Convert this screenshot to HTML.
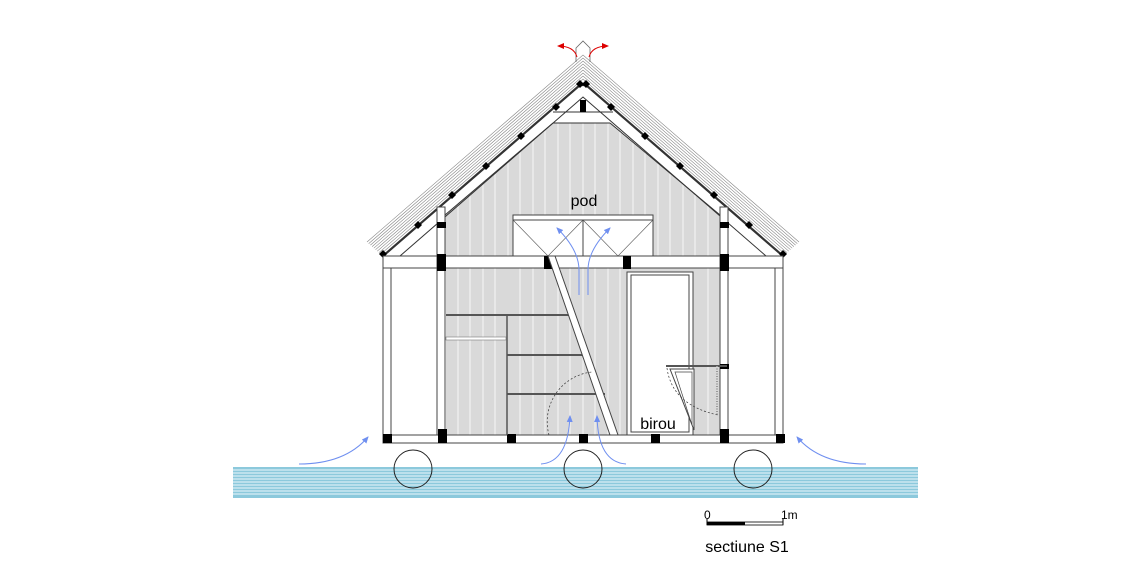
<!DOCTYPE html>
<html><head><meta charset="utf-8"><style>html,body{margin:0;padding:0;background:#fff}svg{display:block}</style></head><body>
<svg width="1123" height="568" viewBox="0 0 1123 568" xmlns="http://www.w3.org/2000/svg" font-family="Liberation Sans, sans-serif">
<defs>
<marker id="ab" markerWidth="8" markerHeight="8" refX="6" refY="3" orient="auto"><path d="M0,0 L7,3 L0,6 z" fill="#6f8ff0"/></marker>
<marker id="ar" markerWidth="8" markerHeight="8" refX="6" refY="3" orient="auto"><path d="M0,0 L7,3 L0,6 z" fill="#d00"/></marker>
</defs>
<!-- water -->
<rect x="233" y="467" width="685" height="31" fill="#8cc9dc"/>
<g stroke="#d8eff6" stroke-width="1.2">
<line x1="233" y1="470" x2="918" y2="470"/><line x1="233" y1="473" x2="918" y2="473"/><line x1="233" y1="476" x2="918" y2="476"/><line x1="233" y1="479" x2="918" y2="479"/><line x1="233" y1="482" x2="918" y2="482"/><line x1="233" y1="485" x2="918" y2="485"/><line x1="233" y1="488" x2="918" y2="488"/><line x1="233" y1="491" x2="918" y2="491"/><line x1="233" y1="494" x2="918" y2="494"/>
</g>
<!-- gray interior -->
<polygon points="445,256 445,215 553,123 610,123 720,215 720,256" fill="#d9d9d9"/>
<rect x="446" y="268" width="274" height="167" fill="#d9d9d9"/>
<g stroke="#fff" stroke-width="0.8">
<line x1="458" y1="140" x2="458" y2="256"/><line x1="470" y1="140" x2="470" y2="256"/><line x1="483" y1="140" x2="483" y2="256"/><line x1="495" y1="140" x2="495" y2="256"/><line x1="508" y1="140" x2="508" y2="256"/><line x1="520" y1="130" x2="520" y2="256"/><line x1="533" y1="125" x2="533" y2="256"/><line x1="545" y1="125" x2="545" y2="256"/><line x1="558" y1="123" x2="558" y2="256"/><line x1="570" y1="123" x2="570" y2="256"/><line x1="583" y1="123" x2="583" y2="256"/><line x1="595" y1="123" x2="595" y2="256"/><line x1="608" y1="123" x2="608" y2="256"/><line x1="620" y1="125" x2="620" y2="256"/><line x1="633" y1="130" x2="633" y2="256"/><line x1="645" y1="140" x2="645" y2="256"/><line x1="658" y1="150" x2="658" y2="256"/><line x1="670" y1="160" x2="670" y2="256"/><line x1="683" y1="175" x2="683" y2="256"/><line x1="695" y1="185" x2="695" y2="256"/><line x1="708" y1="200" x2="708" y2="256"/>
<line x1="458" y1="268" x2="458" y2="435"/><line x1="470" y1="268" x2="470" y2="435"/><line x1="483" y1="268" x2="483" y2="435"/><line x1="495" y1="268" x2="495" y2="435"/><line x1="520" y1="268" x2="520" y2="435"/><line x1="533" y1="268" x2="533" y2="435"/><line x1="545" y1="268" x2="545" y2="435"/><line x1="558" y1="268" x2="558" y2="435"/><line x1="570" y1="268" x2="570" y2="435"/><line x1="583" y1="268" x2="583" y2="435"/><line x1="595" y1="268" x2="595" y2="435"/><line x1="608" y1="268" x2="608" y2="435"/><line x1="620" y1="268" x2="620" y2="435"/><line x1="708" y1="268" x2="708" y2="435"/>
</g>
<!-- roof hatch -->
<g stroke="#888" stroke-width="0.6" fill="none">
<polyline points="367,242 583,55 799,242"/>
<polyline points="368.7,243.6 583,58 797.3,243.6"/>
<polyline points="370.4,245.1 583,61 795.6,245.1"/>
<polyline points="372.1,246.6 583,64 793.9,246.6"/>
<polyline points="373.8,248.2 583,67 792.2,248.2"/>
<polyline points="375.5,249.7 583,70 790.5,249.7"/>
<polyline points="377.2,251.2 583,73 788.8,251.2"/>
<polyline points="378.9,252.7 583,76 787.1,252.7"/>
<polyline points="380.6,254.3 583,79 785.4,254.3"/>
</g>
<!-- rafters -->
<g stroke="#333" fill="none">
<polyline points="383,256 580,85 586,85 783,256" stroke-width="2.2"/>
<polyline points="400,256 583,97 766,256" stroke-width="1"/>
<line x1="553" y1="112" x2="613" y2="112" stroke-width="1"/>
<line x1="553" y1="123" x2="610" y2="123" stroke-width="1"/>
<line x1="445" y1="215" x2="553" y2="123" stroke-width="1"/>
<line x1="720" y1="215" x2="610" y2="123" stroke-width="1"/>
</g>
<rect x="580" y="100" width="6" height="12" fill="#000"/>
<g fill="#000">
<path d="M580,80 l4,4 -4,4 -4,-4z"/><path d="M586,80 l4,4 -4,4 -4,-4z"/>
<path d="M556,103 l4,4 -4,4 -4,-4z"/><path d="M521,132 l4,4 -4,4 -4,-4z"/><path d="M486,162 l4,4 -4,4 -4,-4z"/><path d="M452,191 l4,4 -4,4 -4,-4z"/><path d="M418,221 l4,4 -4,4 -4,-4z"/><path d="M383,250 l4,4 -4,4 -4,-4z"/>
<path d="M611,103 l4,4 -4,4 -4,-4z"/><path d="M645,132 l4,4 -4,4 -4,-4z"/><path d="M680,162 l4,4 -4,4 -4,-4z"/><path d="M714,191 l4,4 -4,4 -4,-4z"/><path d="M749,221 l4,4 -4,4 -4,-4z"/><path d="M783,250 l4,4 -4,4 -4,-4z"/>
</g>
<!-- ridge vent -->
<polyline points="576,62 576,48 583,41 590,48 590,62" fill="none" stroke="#666" stroke-width="0.8"/>
<path d="M577,57 Q574,46 558,46" fill="none" stroke="#d00" stroke-width="1" marker-end="url(#ar)"/>
<path d="M589,57 Q592,46 608,46" fill="none" stroke="#d00" stroke-width="1" marker-end="url(#ar)"/>
<!-- ceiling beam -->
<rect x="383" y="256" width="400" height="12" fill="#fff" stroke="#444" stroke-width="1"/>
<!-- pod window -->
<rect x="513" y="215" width="140" height="41" fill="#fff" stroke="#444" stroke-width="1"/>
<line x1="513" y1="220" x2="653" y2="220" stroke="#444"/>
<line x1="583" y1="220" x2="583" y2="256" stroke="#444"/>
<g stroke="#555" stroke-width="0.6"><line x1="513" y1="220" x2="548" y2="256"/><line x1="583" y1="220" x2="548" y2="256"/><line x1="583" y1="220" x2="618" y2="256"/><line x1="653" y1="220" x2="618" y2="256"/></g>
<!-- walls -->
<g fill="#fff" stroke="#444" stroke-width="1">
<rect x="383" y="268" width="8" height="167"/><rect x="775" y="268" width="8" height="167"/>
<rect x="437" y="207" width="8" height="228"/><rect x="720" y="207" width="8" height="228"/>
<rect x="383" y="435" width="400" height="8"/>
<rect x="627" y="272" width="66" height="163"/>
<rect x="631" y="275" width="58" height="157" fill="none"/>
</g>
<g fill="#000">
<rect x="437" y="222" width="9" height="6"/><rect x="437" y="254" width="9" height="17"/><rect x="720" y="222" width="9" height="6"/><rect x="720" y="254" width="9" height="17"/>
<rect x="544" y="256" width="8" height="13"/><rect x="623" y="256" width="8" height="13"/>
<rect x="383" y="434" width="9" height="9"/><rect x="438" y="429" width="9" height="14"/><rect x="507" y="434" width="9" height="9"/><rect x="579" y="434" width="9" height="9"/><rect x="651" y="434" width="9" height="9"/><rect x="720" y="429" width="9" height="14"/><rect x="776" y="434" width="9" height="9"/>
<rect x="720" y="364" width="9" height="5"/>
</g>
<!-- shelves -->
<g stroke="#555" stroke-width="2">
<line x1="446" y1="315" x2="570" y2="315"/><line x1="507" y1="355" x2="590" y2="355"/><line x1="507" y1="394" x2="605" y2="394"/>
</g>
<line x1="507" y1="315" x2="507" y2="435" stroke="#555" stroke-width="1.5"/>
<rect x="446" y="337" width="60" height="3" fill="#fff" stroke="#777" stroke-width="0.6"/>
<!-- ladder -->
<polygon points="548,256 555,256 618,435 610,435" fill="#fff" stroke="#444" stroke-width="1"/>
<path d="M549,435 A50,50 0 0 1 592,372" fill="none" stroke="#333" stroke-width="0.7" stroke-dasharray="2,2"/>
<!-- desk -->
<line x1="666" y1="366" x2="727" y2="366" stroke="#555" stroke-width="2"/>
<polygon points="670,369 694,369 694,430" fill="#fff" stroke="#444"/>
<polygon points="675,372 692,372 692,425" fill="none" stroke="#444" stroke-width="0.7"/>
<path d="M667,368 Q672,405 718,415" fill="none" stroke="#333" stroke-width="0.7" stroke-dasharray="2,2"/>
<line x1="717" y1="366" x2="717" y2="415" stroke="#999" stroke-width="2" stroke-dasharray="1,1.5"/>
<!-- floats -->
<g fill="none" stroke="#222" stroke-width="1"><circle cx="413" cy="469" r="19"/><circle cx="583" cy="469" r="19"/><circle cx="753" cy="469" r="19"/></g>
<!-- blue arrows -->
<g fill="none" stroke="#6f8ff0" stroke-width="1" marker-end="url(#ab)">
<path d="M299,464 Q345,464 368,437"/><path d="M866,464 Q820,464 797,437"/>
<path d="M541,464 Q568,462 570,416"/><path d="M626,464 Q598,462 597,416"/>
<path d="M579,295 L579,270 Q579,250 557,228"/><path d="M588,295 L588,270 Q588,250 610,228"/>
</g>
<text x="584" y="206" font-size="16" text-anchor="middle" fill="#000">pod</text>
<text x="658" y="429" font-size="16" text-anchor="middle" fill="#000">birou</text>
<!-- scale -->
<rect x="707" y="522" width="76" height="3" fill="#fff" stroke="#000" stroke-width="0.8"/>
<rect x="707" y="522" width="38" height="3" fill="#000"/>
<line x1="707" y1="519" x2="707" y2="525" stroke="#000"/><line x1="783" y1="519" x2="783" y2="525" stroke="#000"/>
<text x="704" y="519" font-size="12">0</text>
<text x="781" y="519" font-size="12">1m</text>
<text x="747" y="552" font-size="16" text-anchor="middle">sectiune S1</text>
</svg>
</body></html>
